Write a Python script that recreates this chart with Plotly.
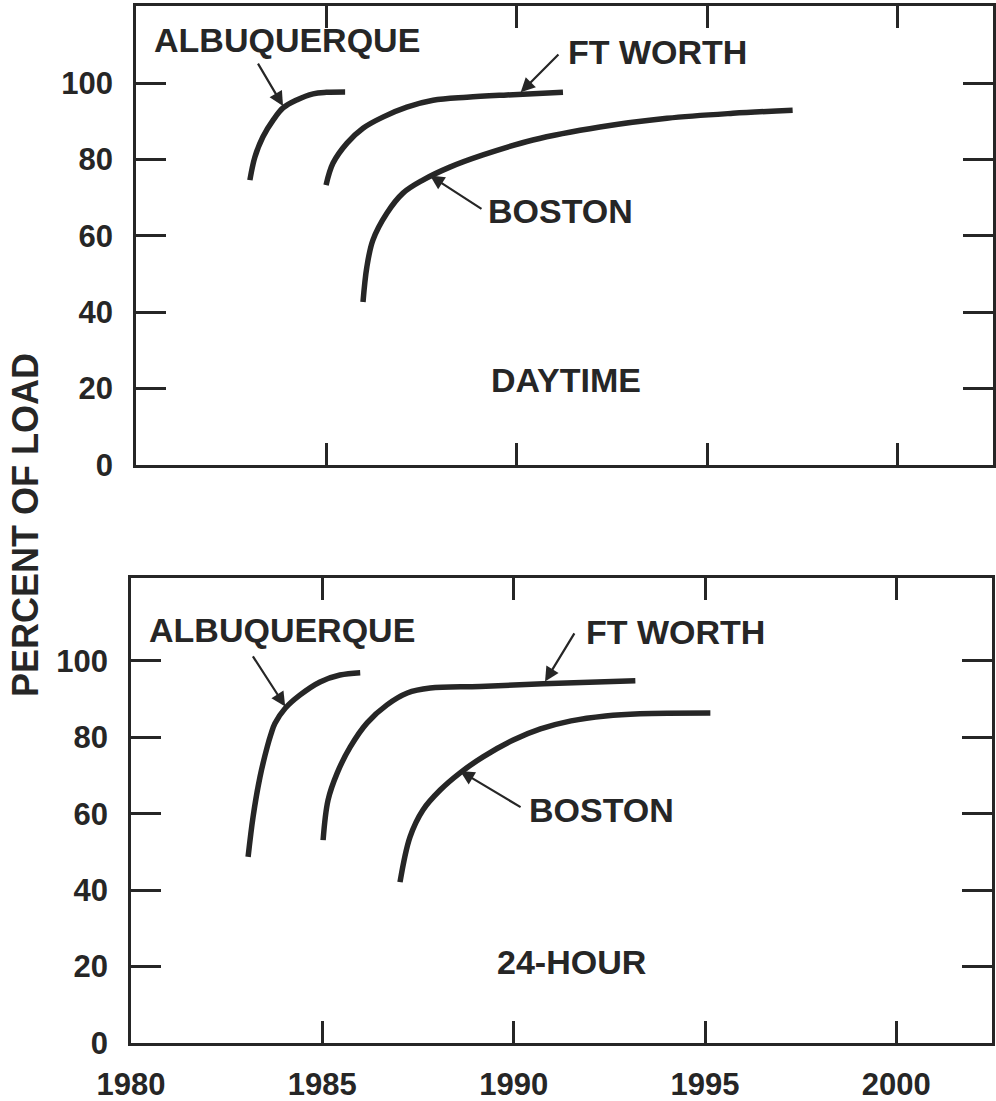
import plotly.graph_objects as go

# ---------------- data ----------------
# DAYTIME panel
day_alb_year = [1982.99, 1983.12, 1983.33, 1983.60, 1983.86, 1984.22, 1984.65, 1985.00, 1985.49]
day_alb_pct = [74.6, 80.6, 85.9, 90.3, 93.5, 95.6, 97.2, 97.6, 97.7]

day_ftw_year = [1984.99, 1985.17, 1985.54, 1985.96, 1986.48, 1987.11, 1987.80, 1988.69, 1989.74, 1991.21]
day_ftw_pct = [73.3, 79.0, 84.3, 88.2, 91.1, 93.7, 95.5, 96.3, 96.9, 97.6]

day_bos_year = [1985.96, 1986.06, 1986.22, 1986.59, 1987.01, 1987.53, 1988.24, 1989.11, 1990.42, 1992.18, 1993.94, 1995.67, 1997.24]
day_bos_pct = [42.7, 51.8, 58.9, 66.0, 71.2, 74.6, 78.0, 81.2, 85.1, 88.5, 90.8, 92.1, 92.9]

# 24-HOUR panel
h24_alb_year = [1983.06, 1983.19, 1983.37, 1983.56, 1983.66, 1983.76, 1984.03, 1984.42, 1984.94, 1985.46, 1985.99]
h24_alb_pct = [48.7, 59.2, 69.6, 77.5, 80.9, 83.6, 87.6, 91.1, 94.5, 96.3, 96.9]

h24_ftw_year = [1985.02, 1985.15, 1985.39, 1985.73, 1986.17, 1986.69, 1987.22, 1987.82, 1989.12, 1990.77, 1993.18]
h24_ftw_pct = [53.1, 63.6, 70.7, 77.5, 83.8, 88.5, 91.6, 92.9, 93.3, 94.0, 94.8]

h24_bos_year = [1987.03, 1987.29, 1987.63, 1988.08, 1988.60, 1989.20, 1989.99, 1990.70, 1991.50, 1992.40, 1993.30, 1995.14]
h24_bos_pct = [42.1, 53.9, 61.0, 66.2, 70.7, 74.9, 79.3, 82.2, 84.3, 85.6, 86.2, 86.4]

x_tick_vals = [1980, 1985, 1990, 1995, 2000]
x_tick_text = ["1980", "1985", "1990", "1995", "2000"]
y_tick_vals = [0, 20, 40, 60, 80, 100]
y_tick_text = ["0", "20", "40", "60", "80", "100"]

y_title = "PERCENT OF LOAD"
panel_titles = ["DAYTIME", "24-HOUR"]

# ---------------- styling ----------------
INK = "#262626"
LW = 5.5
FONT = "Liberation Sans"

W, H = 996, 1101


def px_x(p):
    return min(1.0, max(0.0, p / W))


def px_y(p):
    return min(1.0, max(0.0, 1 - p / H))


fig = go.Figure()

series = [
    (day_alb_year, day_alb_pct, "x", "y"),
    (day_ftw_year, day_ftw_pct, "x", "y"),
    (day_bos_year, day_bos_pct, "x", "y"),
    (h24_alb_year, h24_alb_pct, "x2", "y2"),
    (h24_ftw_year, h24_ftw_pct, "x2", "y2"),
    (h24_bos_year, h24_bos_pct, "x2", "y2"),
]
for xs, ys, xa, ya in series:
    fig.add_trace(go.Scatter(
        x=xs, y=ys, xaxis=xa, yaxis=ya, mode="lines",
        line=dict(color=INK, width=LW, shape="spline", smoothing=1.0),
        showlegend=False, hoverinfo="skip",
    ))

axis_common = dict(
    showline=True, linecolor=INK, linewidth=2.5, mirror="allticks",
    ticks="inside", tickcolor=INK, tickwidth=2.5,
    showgrid=False, zeroline=False, automargin=False,
)

tick_font = dict(family=FONT, size=31, color=INK, weight="bold")

fig.update_layout(
    width=W, height=H,
    margin=dict(l=0, r=0, t=0, b=0, autoexpand=False),
    paper_bgcolor="white", plot_bgcolor="white",
    xaxis=dict(domain=[px_x(136), px_x(993)], range=[1980, 2002.5], anchor="y",
               tickvals=x_tick_vals, ticklen=22, showticklabels=False, **axis_common),
    yaxis=dict(domain=[px_y(465), px_y(6)], range=[0, 120.2], anchor="x",
               tickvals=y_tick_vals, ticktext=y_tick_text, ticklen=30,
               tickfont=tick_font, ticklabelstandoff=14, **axis_common),
    xaxis2=dict(domain=[px_x(131), px_x(992)], range=[1980, 2002.5], anchor="y2",
                tickvals=x_tick_vals, ticktext=x_tick_text, ticklen=22,
                tickfont=tick_font, ticklabelstandoff=12, **axis_common),
    yaxis2=dict(domain=[px_y(1043), px_y(578)], range=[0, 121.7], anchor="x2",
                tickvals=y_tick_vals, ticktext=y_tick_text, ticklen=30,
                tickfont=tick_font, ticklabelstandoff=14, **axis_common),
)

label_font = dict(family=FONT, size=34, color=INK, weight="bold")

annotations = []


def label(text, x, y, xa, ya, anchor="center"):
    annotations.append(dict(text=text, x=x, y=y, xref=xa, yref=ya, showarrow=False,
                            xanchor=anchor, yanchor="middle", font=label_font))


def arrow(tip_x, tip_y, tail_x, tail_y, xa, ya):
    annotations.append(dict(text="", x=tip_x, y=tip_y, ax=tail_x, ay=tail_y,
                            xref=xa, yref=ya, axref=xa, ayref=ya, showarrow=True,
                            arrowhead=2, arrowsize=1.3, arrowwidth=2.2, arrowcolor=INK))


# top panel labels
label("ALBUQUERQUE", 1983.96, 111.3, "x", "y")
arrow(1983.86, 94.0, 1983.18, 105.5, "x", "y")
label("FT WORTH", 1991.30, 108.1, "x", "y", "left")
arrow(1990.10, 97.6, 1991.13, 107.9, "x", "y")
label("BOSTON", 1989.20, 66.5, "x", "y", "left")
arrow(1987.72, 75.8, 1989.11, 66.8, "x", "y")
label(panel_titles[0], 1991.29, 22.3, "x", "y")

# bottom panel labels
label("ALBUQUERQUE", 1983.95, 108.1, "x2", "y2")
arrow(1984.03, 88.1, 1983.16, 101.6, "x2", "y2")
label("FT WORTH", 1991.85, 107.6, "x2", "y2", "left")
arrow(1990.82, 94.6, 1991.61, 107.6, "x2", "y2")
label("BOSTON", 1990.35, 61.0, "x2", "y2", "left")
arrow(1988.60, 71.2, 1990.22, 61.5, "x2", "y2")
label(panel_titles[1], 1991.50, 21.2, "x2", "y2")

# shared y title
annotations.append(dict(text=y_title, x=px_x(25), y=px_y(525), xref="paper", yref="paper",
                        showarrow=False, textangle=-90, xanchor="center", yanchor="middle",
                        font=dict(family=FONT, size=36, color=INK, weight="bold")))

fig.update_layout(annotations=annotations)

fig.write_html("out.html", config={"displayModeBar": False},
               post_script="document.body.style.margin='0';")
